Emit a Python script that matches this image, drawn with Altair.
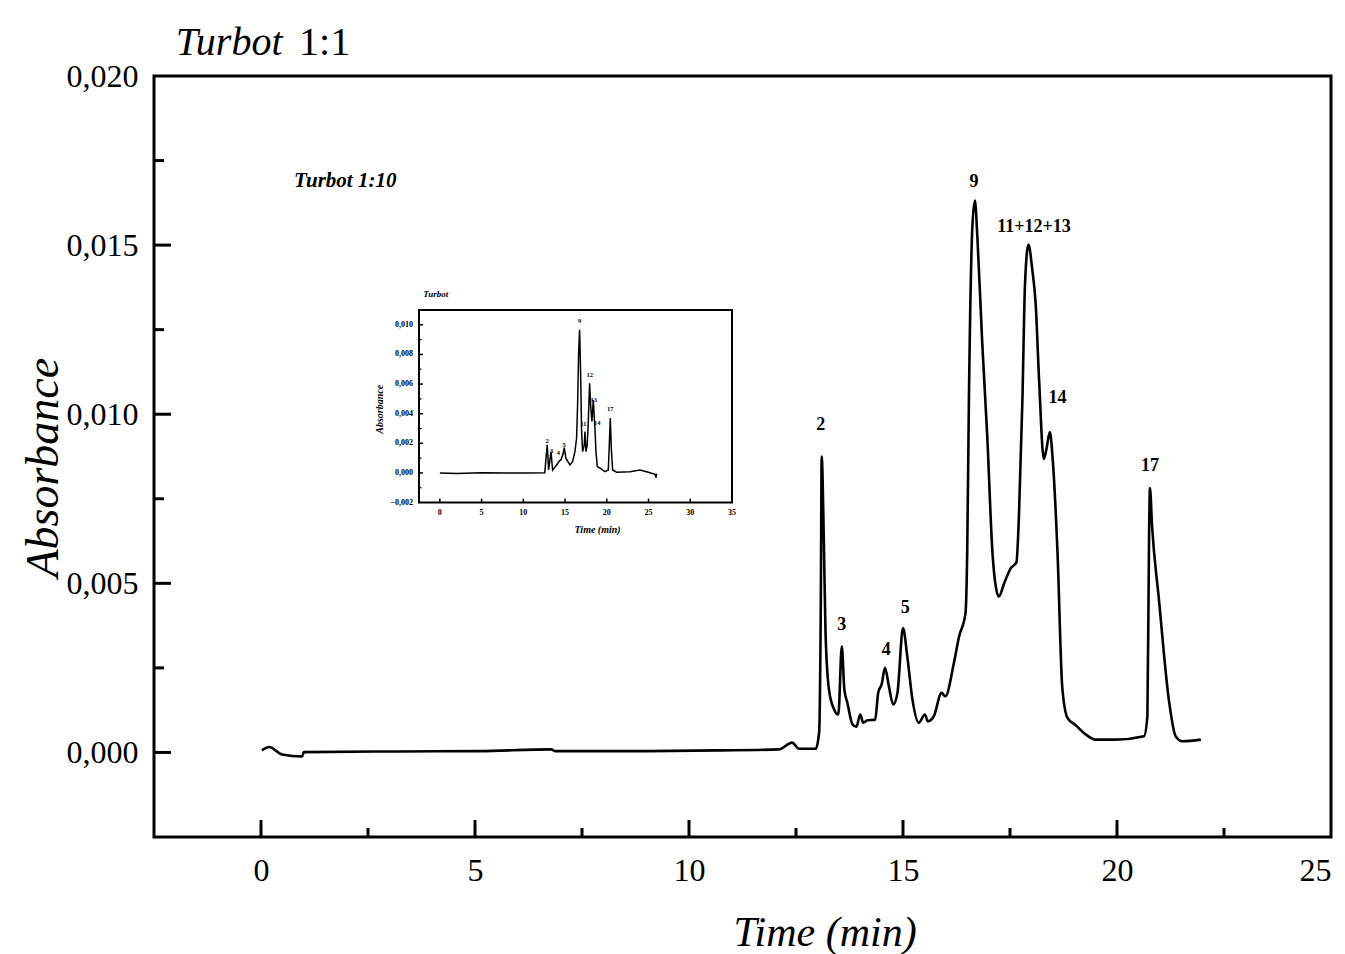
import altair as alt
import pandas as pd

# ---------------- main chromatogram (Turbot 1:1) ----------------
TIME = [0.02, 0.19, 0.49, 0.96, 1.00, 3.22, 5.09, 6.78, 6.87, 8.83, 10.70, 12.10,
        12.41, 12.57, 12.96, 13.04, 13.08, 13.10, 13.15, 13.19, 13.27, 13.39, 13.49,
        13.57, 13.63, 13.70, 13.82, 13.91, 14.00, 14.07, 14.17, 14.35, 14.42, 14.50,
        14.58, 14.67, 14.77, 14.87, 15.00, 15.10, 15.22, 15.37, 15.51, 15.58, 15.72,
        15.90, 15.99, 16.19, 16.31, 16.46, 16.50, 16.54, 16.62, 16.68, 16.74, 16.85,
        16.97, 17.09, 17.17, 17.24, 17.36, 17.52, 17.65, 17.71, 17.79, 17.85, 17.93,
        18.02, 18.10, 18.18, 18.29, 18.35, 18.43, 18.50, 18.61, 18.72, 18.84, 19.03,
        19.27, 19.50, 19.97, 20.63, 20.71, 20.75, 20.77, 20.82, 20.98, 21.21, 21.37,
        21.53, 21.96]
ABS = [0.00006, 0.00016, -0.00006, -0.00012, 0.00001, 0.00003, 0.00004, 0.00009,
       0.00004, 0.00004, 0.00006, 0.00009, 0.00029, 0.00011, 0.00011, 0.00059,
       0.00452, 0.00875, 0.00629, 0.00354, 0.00186, 0.00127, 0.00112, 0.00314,
       0.00186, 0.00147, 0.00083, 0.00076, 0.00112, 0.00088, 0.00095, 0.00097,
       0.00176, 0.00201, 0.00250, 0.00196, 0.00142, 0.00176, 0.00368, 0.00284,
       0.00157, 0.00088, 0.00112, 0.00092, 0.00107, 0.00176, 0.00166, 0.00265,
       0.00343, 0.00411, 0.00591, 0.01043, 0.01552, 0.01632, 0.01518, 0.01214,
       0.00931, 0.00591, 0.00489, 0.00461, 0.00499, 0.00545, 0.00562, 0.00703,
       0.01043, 0.01382, 0.01502, 0.01428, 0.01326, 0.01100, 0.00868, 0.00896,
       0.00947, 0.00863, 0.00591, 0.00195, 0.00103, 0.00081, 0.00053, 0.00038,
       0.00038, 0.00048, 0.00107, 0.00650, 0.00782, 0.00668, 0.00452, 0.00157,
       0.00048, 0.00033, 0.00038]

PEAK_LABELS = ["2", "3", "4", "5", "9", "11+12+13", "14", "17"]
PEAK_T = [13.08, 13.57, 14.61, 15.05, 16.66, 18.06, 18.61, 20.77]
PEAK_A = [0.00969, 0.00378, 0.00304, 0.00428, 0.01688, 0.01555, 0.01048, 0.00846]

X_MAJOR = [0, 5, 10, 15, 20, 25]
X_MINOR = [2.5, 7.5, 12.5, 17.5, 22.5]
Y_MAJOR = [0.0, 0.005, 0.010, 0.015, 0.020]
Y_MINOR = [0.0025, 0.0075, 0.0125, 0.0175]
X_DOMAIN = [-2.5, 25]
Y_DOMAIN = [-0.0025, 0.020]

TITLE_PARTS = ["Turbot", "1:1"]
TITLE_T = [-1.99, 0.89]
TITLE_A = [0.02062, 0.02062]

AXIS_TITLES = ["Absorbance", "Time (min)"]
AXIS_TITLE_T = [-5.07, 13.18]
AXIS_TITLE_A = [0.00842, -0.00535]

INNER_NOTE = ["Turbot 1:10"]
INNER_T = [0.77]
INNER_A = [0.0169]

# ---------------- inset chromatogram (Turbot 1:10) ----------------
IN_TIME = [0.0, 2.0, 5.0, 8.0, 10.8, 12.57, 12.86, 13.03, 13.31, 13.51, 13.99, 14.31,
           14.50, 14.78, 14.90, 15.10, 15.58, 15.90, 16.18, 16.38, 16.50, 16.62,
           16.74, 16.86, 16.98, 17.10, 17.30, 17.38, 17.50, 17.65, 17.77, 17.94,
           18.06, 18.22, 18.38, 18.58, 18.70, 18.86, 19.18, 19.78, 20.18, 20.30,
           20.42, 20.54, 20.70, 21.18, 22.77, 23.97, 24.97, 25.77, 25.90, 25.97]
IN_ABS = [0.0, -0.00003, 0.00002, 0.0, 0.0, 0.00002, 0.0019, 0.0002, 0.00144,
          0.0002, 0.00054, 0.00081, 0.00088, 0.00133, 0.00171, 0.0010, 0.00054,
          0.00076, 0.00144, 0.00234, 0.0046, 0.00797, 0.00966, 0.00684, 0.00279,
          0.00144, 0.00189, 0.00279, 0.00144, 0.00189, 0.00324, 0.00606, 0.0046,
          0.00347, 0.00493, 0.00302, 0.00144, 0.00043, 0.00032, 0.00009, 0.0002,
          0.0019, 0.0037, 0.00167, 0.0002, 0.00005, 0.00009, 0.0002, 0.00005,
          -0.00009, -0.00032, -0.00005]
IN_PEAK_LABELS = ["2", "3", "4", "5", "9", "12", "13", "11", "14", "17"]
IN_PEAK_T = [12.86, 13.4, 14.2, 14.9, 16.74, 17.97, 18.45, 17.2, 18.85, 20.42]
IN_PEAK_A = [0.00215, 0.00149, 0.00133, 0.0019, 0.01025, 0.0066, 0.00493, 0.00329, 0.00336, 0.00432]
IN_X_MAJOR = [0, 5, 10, 15, 20, 25, 30, 35]
IN_Y_MAJOR = [-0.002, 0.0, 0.002, 0.004, 0.006, 0.008, 0.010]
IN_Y_MINOR = [-0.001, 0.001, 0.003, 0.005, 0.007, 0.009]
IN_X_DOMAIN = [-2.5, 35]
IN_Y_DOMAIN = [-0.002, 0.011]
IN_TEXTS = ["Turbot", "Absorbance", "Time (min)"]
IN_TEXT_T = [-2.0, -7.2, 18.9]
IN_TEXT_A = [0.01175, 0.0043, -0.00385]

# ---------------- layout ----------------
W, H = 1177, 761
IN_X_RANGE = [265, 578]
IN_Y_RANGE = [426.6, 234]
SERIF = "Liberation Serif"

xs = alt.Scale(domain=X_DOMAIN, nice=False, zero=False)
ys = alt.Scale(domain=Y_DOMAIN, nice=False, zero=False)
comma_fmt = "replace(format(datum.value, '.3f'), '.', ',')"

xaxis = alt.Axis(values=X_MAJOR, title=None, domain=False, ticks=False, grid=False,
                 labelFont=SERIF, labelFontSize=32, labelColor="black", labelPadding=18,
                 labelFlush=True, labelOverlap=False, labelBound=False, format="d")
yaxis = alt.Axis(values=Y_MAJOR, title=None, domain=False, ticks=False, grid=False,
                 labelFont=SERIF, labelFontSize=32, labelColor="black", labelPadding=16,
                 labelFlush=False, labelOverlap=False, labelExpr=comma_fmt)

X = lambda f="t": alt.X(f"{f}:Q", scale=xs, axis=xaxis)
Y = lambda f="A": alt.Y(f"{f}:Q", scale=ys, axis=yaxis)

trace = pd.DataFrame({"t": TIME, "A": ABS})
main_line = alt.Chart(trace).mark_line(color="black", strokeWidth=2.6,
                                       interpolate="monotone").encode(x=X(), y=Y())

xmaj = alt.Chart(pd.DataFrame({"t": X_MAJOR[:-1]})).mark_rule(color="black", strokeWidth=3).encode(
    x=X(), y=alt.value(H), y2=alt.value(H - 17))
xmin = alt.Chart(pd.DataFrame({"t": X_MINOR})).mark_rule(color="black", strokeWidth=3).encode(
    x=X(), y=alt.value(H), y2=alt.value(H - 9))
ymaj = alt.Chart(pd.DataFrame({"A": Y_MAJOR[:-1]})).mark_rule(color="black", strokeWidth=3).encode(
    y=Y(), x=alt.value(0), x2=alt.value(17))
ymin = alt.Chart(pd.DataFrame({"A": Y_MINOR})).mark_rule(color="black", strokeWidth=3).encode(
    y=Y(), x=alt.value(0), x2=alt.value(10))

peaks = alt.Chart(pd.DataFrame({"t": PEAK_T, "A": PEAK_A, "lab": PEAK_LABELS})).mark_text(
    font=SERIF, fontSize=18, fontWeight="bold", color="black", baseline="middle", align="center"
).encode(x=X(), y=Y(), text="lab:N")

note = alt.Chart(pd.DataFrame({"t": INNER_T, "A": INNER_A, "lab": INNER_NOTE})).mark_text(
    font=SERIF, fontSize=21, fontWeight="bold", fontStyle="italic", color="black",
    baseline="middle", align="left"
).encode(x=X(), y=Y(), text="lab:N")

title_df = pd.DataFrame({"t": TITLE_T, "A": TITLE_A, "lab": TITLE_PARTS})
title1 = alt.Chart(title_df.iloc[[0]]).mark_text(
    font=SERIF, fontSize=40, fontStyle="italic", color="black", baseline="alphabetic", align="left"
).encode(x=X(), y=Y(), text="lab:N")
title2 = alt.Chart(title_df.iloc[[1]]).mark_text(
    font=SERIF, fontSize=40, color="black", baseline="alphabetic", align="left"
).encode(x=X(), y=Y(), text="lab:N")

ax_df = pd.DataFrame({"t": AXIS_TITLE_T, "A": AXIS_TITLE_A, "lab": AXIS_TITLES})
ytitle = alt.Chart(ax_df.iloc[[0]]).mark_text(
    font=SERIF, fontSize=46, fontStyle="italic", color="black", baseline="middle",
    align="center", angle=270).encode(x=X(), y=Y(), text="lab:N")
xtitle = alt.Chart(ax_df.iloc[[1]]).mark_text(
    font=SERIF, fontSize=42, fontStyle="italic", color="black", baseline="middle",
    align="center").encode(x=X(), y=Y(), text="lab:N")

main = alt.layer(main_line, xmaj, xmin, ymaj, ymin, peaks, note, title1, title2, ytitle, xtitle)

# ---------------- inset ----------------
ixs = alt.Scale(domain=IN_X_DOMAIN, range=IN_X_RANGE, nice=False, zero=False)
iys = alt.Scale(domain=IN_Y_DOMAIN, range=IN_Y_RANGE, nice=False, zero=False)
IX = lambda f="t": alt.X(f"{f}:Q", scale=ixs, axis=None)
IY = lambda f="A": alt.Y(f"{f}:Q", scale=iys, axis=None)

frame = alt.Chart(pd.DataFrame({"t": [IN_X_DOMAIN[0]], "t2": [IN_X_DOMAIN[1]],
                                "A": [IN_Y_DOMAIN[0]], "A2": [IN_Y_DOMAIN[1]]})).mark_rect(
    fill=None, fillOpacity=0, stroke="black", strokeWidth=2
).encode(x=IX(), x2=alt.X2("t2:Q"), y=IY(), y2=alt.Y2("A2:Q"))

in_line = alt.Chart(pd.DataFrame({"t": IN_TIME, "A": IN_ABS})).mark_line(
    color="black", strokeWidth=1.5).encode(x=IX(), y=IY())

in_xt = alt.Chart(pd.DataFrame({"t": IN_X_MAJOR[:-1]})).mark_rule(color="black", strokeWidth=1.5).encode(
    x=IX(), y=alt.value(IN_Y_RANGE[0]), y2=alt.value(IN_Y_RANGE[0] - 4))
in_yt = alt.Chart(pd.DataFrame({"A": IN_Y_MAJOR[1:]})).mark_rule(color="black", strokeWidth=1.5).encode(
    y=IY(), x=alt.value(IN_X_RANGE[0]), x2=alt.value(IN_X_RANGE[0] + 4))
in_ytm = alt.Chart(pd.DataFrame({"A": IN_Y_MINOR})).mark_rule(color="black", strokeWidth=1.2).encode(
    y=IY(), x=alt.value(IN_X_RANGE[0]), x2=alt.value(IN_X_RANGE[0] + 2.5))

in_xl = alt.Chart(pd.DataFrame({"t": IN_X_MAJOR})).mark_text(
    font=SERIF, fontSize=8, fontWeight="bold", color="black", baseline="top", align="center"
).encode(x=IX(), y=alt.value(IN_Y_RANGE[0] + 6), text=alt.Text("t:Q", format="d"))
in_yl = alt.Chart(pd.DataFrame({"A": IN_Y_MAJOR})).mark_text(
    font=SERIF, fontSize=8, fontWeight="bold", color="black", baseline="middle", align="right"
).transform_calculate(lab=comma_fmt.replace("datum.value", "datum.A")).encode(
    y=IY(), x=alt.value(IN_X_RANGE[0] - 6), text="lab:N")

in_peaks = alt.Chart(pd.DataFrame({"t": IN_PEAK_T, "A": IN_PEAK_A, "lab": IN_PEAK_LABELS})).mark_text(
    font=SERIF, fontSize=6.5, fontWeight="bold", color="black", baseline="middle", align="center"
).encode(x=IX(), y=IY(), text="lab:N")

in_txt_df = pd.DataFrame({"t": IN_TEXT_T, "A": IN_TEXT_A, "lab": IN_TEXTS})
in_t0 = alt.Chart(in_txt_df.iloc[[0]]).mark_text(
    font=SERIF, fontSize=9, fontWeight="bold", fontStyle="italic", color="black",
    baseline="bottom", align="left").encode(x=IX(), y=IY(), text="lab:N")
in_t1 = alt.Chart(in_txt_df.iloc[[1]]).mark_text(
    font=SERIF, fontSize=10, fontWeight="bold", fontStyle="italic", color="black",
    baseline="middle", align="center", angle=270).encode(x=IX(), y=IY(), text="lab:N")
in_t2 = alt.Chart(in_txt_df.iloc[[2]]).mark_text(
    font=SERIF, fontSize=10, fontWeight="bold", fontStyle="italic", color="black",
    baseline="middle", align="center").encode(x=IX(), y=IY(), text="lab:N")

inset = alt.layer(frame, in_line, in_xt, in_yt, in_ytm, in_xl, in_yl, in_peaks, in_t0, in_t1, in_t2)

chart = alt.layer(main, inset).resolve_scale(x="independent", y="independent").properties(
    width=W, height=H,
    background="white",
    autosize=alt.AutoSizeParams(type="none"),
    padding={"left": 154, "top": 76, "right": 14, "bottom": 117},
).configure_view(stroke="black", strokeWidth=3)

chart.save("out.html", embed_options={"renderer": "svg", "actions": False})
